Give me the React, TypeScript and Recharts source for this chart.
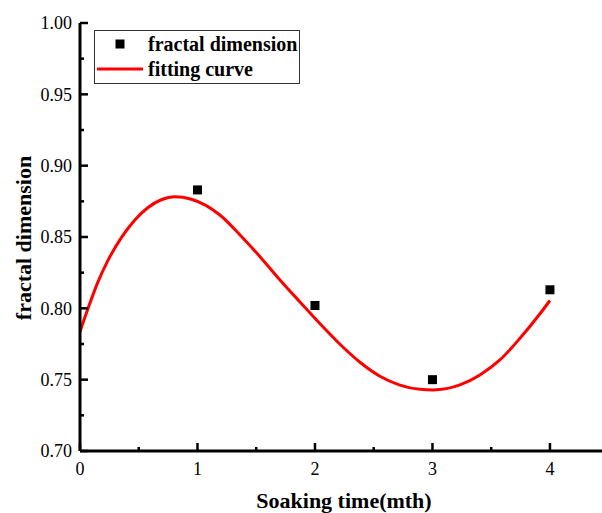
import React from 'react';
import { ComposedChart, Line, Scatter, XAxis, YAxis } from 'recharts';

// Measured data points
const pointX = [1, 2, 3, 4];
const pointY = [0.883, 0.802, 0.75, 0.813];

// Fitting curve
const curveX = [0, 0.068, 0.153, 0.238, 0.352, 0.465, 0.579, 0.692, 0.806, 0.948, 1.191, 1.362, 1.532, 1.702, 1.872, 2.043, 2.213, 2.383, 2.553, 2.723, 2.894, 3.007, 3.234, 3.404, 3.574, 3.745, 3.915, 4.0];
const curveY = [0.7836, 0.7998, 0.8185, 0.8336, 0.8496, 0.8618, 0.8707, 0.8761, 0.8782, 0.8765, 0.8654, 0.8514, 0.8362, 0.8199, 0.8045, 0.7892, 0.7748, 0.7622, 0.7524, 0.7462, 0.7432, 0.7428, 0.7463, 0.7533, 0.7638, 0.779, 0.7962, 0.8055];

const xTicks = [0, 0.5, 1, 1.5, 2, 2.5, 3, 3.5, 4];
const yTicks = [0.7, 0.725, 0.75, 0.775, 0.8, 0.825, 0.85, 0.875, 0.9, 0.925, 0.95, 0.975, 1.0];

const xTitle = 'Soaking time(mth)';
const yTitle = 'fractal dimension';
const legendPoints = 'fractal dimension';
const legendCurve = 'fitting curve';

const points = pointX.map((x, i) => ({ x, y: pointY[i] }));
const curve = curveX.map((x, i) => ({ x, y: curveY[i] }));

const FONT = '"Liberation Serif", "Times New Roman", serif';

const isMajor = (v: number, step: number) => Math.abs(v / step - Math.round(v / step)) < 1e-6;

const XTick = (props: any) => {
  const { x, y, payload } = props;
  const v = payload.value;
  const major = isMajor(v, 1);
  return (
    <g>
      <line x1={x} x2={x} y1={y} y2={y - (major ? 8 : 4)} stroke="#000" strokeWidth={2.5} />
      {major && (
        <text x={x} y={y + 24} textAnchor="middle" fontFamily={FONT} fontSize={18} fill="#000">
          {String(v)}
        </text>
      )}
    </g>
  );
};

const YTick = (props: any) => {
  const { x, y, payload } = props;
  const v = payload.value;
  const major = isMajor(v, 0.05);
  return (
    <g>
      <line x1={x} x2={x + (major ? 8 : 4)} y1={y} y2={y} stroke="#000" strokeWidth={2.5} />
      {major && (
        <text x={x - 8} y={y} dy="0.35em" textAnchor="end" fontFamily={FONT} fontSize={18} fill="#000">
          {v.toFixed(2)}
        </text>
      )}
    </g>
  );
};

const Square = (props: any) => {
  const { cx, cy } = props;
  return <rect x={cx - 4.5} y={cy - 4.5} width={9} height={9} fill="#000" />;
};

export default function App() {
  return (
    <div style={{ position: 'absolute', left: 0, top: 0, width: 602, height: 513, background: '#fff', overflow: 'hidden' }}>
      <ComposedChart width={602} height={513} margin={{ top: 23, right: 0, bottom: 0, left: 0 }}>
        <XAxis
          type="number"
          dataKey="x"
          domain={[0, 4.443]}
          ticks={xTicks}
          allowDataOverflow
          height={62}
          tickSize={0}
          tickMargin={0}
          tickLine={false}
          tick={<XTick />}
          axisLine={{ stroke: '#000', strokeWidth: 3 }}
          interval={0}
          label={() => (
            <text x={344} y={508} textAnchor="middle" fontFamily={FONT} fontSize={22} fontWeight="bold" fill="#000">
              {xTitle}
            </text>
          )}
        />
        <YAxis
          type="number"
          dataKey="y"
          domain={[0.7, 1.0]}
          ticks={yTicks}
          allowDataOverflow
          width={80}
          tickSize={0}
          tickMargin={0}
          tickLine={false}
          tick={<YTick />}
          axisLine={{ stroke: '#000', strokeWidth: 3 }}
          interval={0}
          label={() => (
            <text
              x={23}
              y={238}
              dy="0.35em"
              transform="rotate(-90, 23, 238)"
              textAnchor="middle"
              fontFamily={FONT}
              fontSize={22}
              fontWeight="bold"
              fill="#000"
            >
              {yTitle}
            </text>
          )}
        />
        <Line
          data={curve}
          dataKey="y"
          type="monotoneX"
          stroke="#ff0000"
          strokeWidth={3}
          dot={false}
          activeDot={false}
          isAnimationActive={false}
        />
        <Scatter data={points} dataKey="y" shape={<Square />} isAnimationActive={false} />
      </ComposedChart>
      <svg style={{ position: 'absolute', left: 0, top: 0 }} width={602} height={513} pointerEvents="none">
        <rect x={94.5} y={30.5} width={205} height={53} fill="#fff" stroke="#333" strokeWidth={1} />
        <rect x={115.5} y={39.5} width={9} height={9} fill="#000" />
        <text x={148} y={44} dy="0.35em" fontFamily={FONT} fontSize={20} fontWeight="bold" fill="#000">
          {legendPoints}
        </text>
        <line x1={97} x2={143} y1={69} y2={69} stroke="#ff0000" strokeWidth={3} />
        <text x={148} y={69} dy="0.35em" fontFamily={FONT} fontSize={20} fontWeight="bold" fill="#000">
          {legendCurve}
        </text>
      </svg>
    </div>
  );
}
